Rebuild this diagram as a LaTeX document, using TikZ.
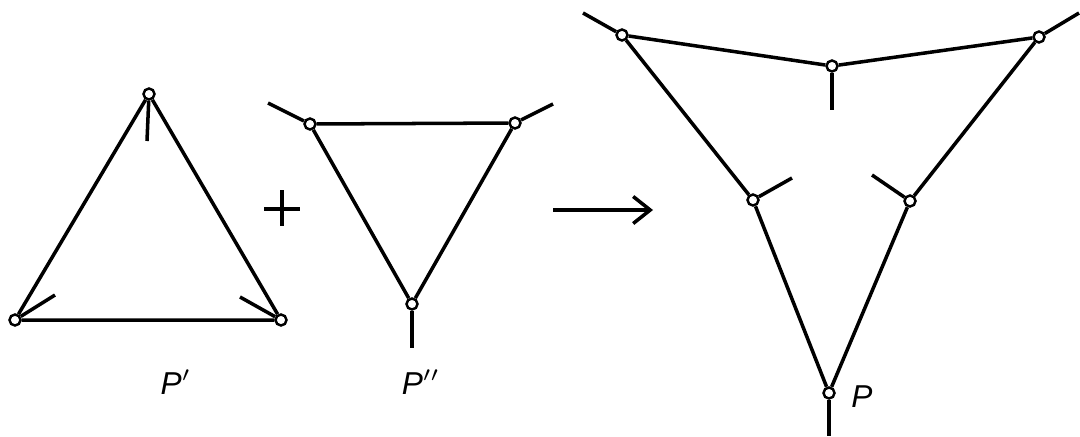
\documentclass[tikz,border=0pt]{standalone}
\usepackage{fontspec}
\setmainfont{Liberation Sans}
\usetikzlibrary{arrows.meta}
\begin{document}
\begin{tikzpicture}[x=0.01cm,y=-0.01cm,
  vtx/.style={circle,draw,fill=white,inner sep=0pt,minimum size=0.11cm,line width=0.7pt},
  edge/.style={line width=1pt},
  lbl/.style={font=\itshape\fontsize{9}{11}\selectfont}]
\useasboundingbox (0,0) rectangle (1080,436);
% P'
\node[vtx] (a1) at (149,94) {};
\node[vtx] (a2) at (15,320) {};
\node[vtx] (a3) at (281,320) {};
\coordinate (s1) at (147,141);
\coordinate (s2) at (55,295);
\coordinate (s3) at (240,297);
\draw[edge] (a1) -- (a2) -- (a3) -- (a1);
\draw[edge] (a1) -- (s1);
\draw[edge] (a2) -- (s2);
\draw[edge] (a3) -- (s3);
% plus
\coordinate (pl) at (264,209);
\coordinate (pr) at (300,209);
\coordinate (pt) at (282,190);
\coordinate (pb) at (282,226);
\draw[edge] (pl) -- (pr);
\draw[edge] (pt) -- (pb);
% P''
\node[vtx] (b1) at (310,124) {};
\node[vtx] (b2) at (515,123) {};
\node[vtx] (b3) at (412,304) {};
\coordinate (t1) at (268,103);
\coordinate (t2) at (553,104);
\coordinate (t3) at (412,348);
\draw[edge] (b1) -- (b2) -- (b3) -- (b1);
\draw[edge] (b1) -- (t1);
\draw[edge] (b2) -- (t2);
\draw[edge] (b3) -- (t3);
% arrow
\coordinate (ar1) at (553,210);
\coordinate (ar2) at (653,210);
\draw[edge,-{Straight Barb[length=0.17cm,width=0.27cm,line width=1pt]}] (ar1) -- (ar2);
% P
\node[vtx] (c1) at (622,35) {};
\node[vtx] (c2) at (832,66) {};
\node[vtx] (c3) at (1039,37) {};
\node[vtx] (c4) at (753,200) {};
\node[vtx] (c5) at (910,201) {};
\node[vtx] (c6) at (829,393) {};
\coordinate (u1) at (583,13);
\coordinate (u2) at (832,110);
\coordinate (u3) at (1079,13);
\coordinate (u4) at (792,178);
\coordinate (u5) at (872,175);
\coordinate (u6) at (829,436);
\draw[edge] (c1) -- (c2) -- (c3) -- (c5) -- (c6) -- (c4) -- (c1);
\draw[edge] (c1) -- (u1);
\draw[edge] (c2) -- (u2);
\draw[edge] (c3) -- (u3);
\draw[edge] (c4) -- (u4);
\draw[edge] (c5) -- (u5);
\draw[edge] (c6) -- (u6);
% labels
\node[lbl] (l1) at (176,382) {P$'$};
\node[lbl] (l2) at (421,382) {P$''$};
\node[lbl] (l3) at (862,397) {P};
\end{tikzpicture}
\end{document}
